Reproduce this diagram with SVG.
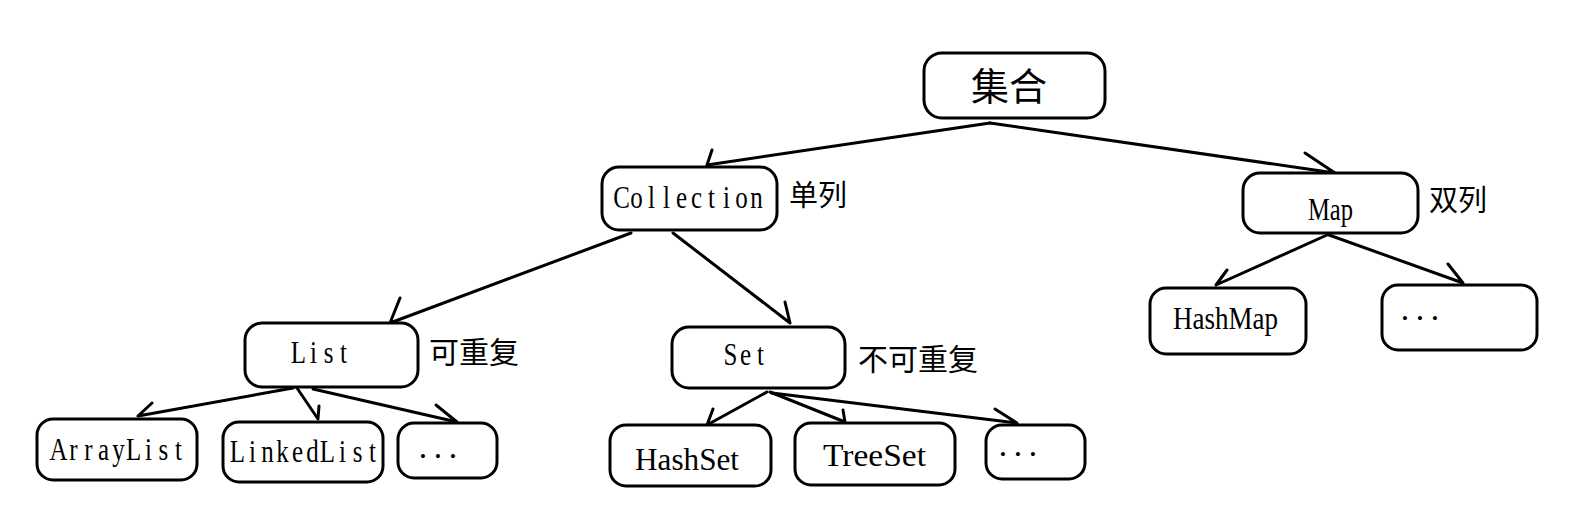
<svg xmlns="http://www.w3.org/2000/svg" width="1579" height="512" viewBox="0 0 1579 512">
<style>
.box{fill:#fff;stroke:#000;stroke-width:3}
.lat{font-family:"Liberation Serif",serif;font-size:32px;fill:#000;text-anchor:middle}
.pro{font-family:"Liberation Serif",serif;font-size:32px;fill:#000}
.dot{font-family:"Liberation Serif",serif;font-size:34px;fill:#000;text-anchor:middle}
.cjk{font-family:"Noto Sans CJK SC",sans-serif;fill:#000}
.c29{font-size:29px}
.c30{font-size:30px}
.c38{font-size:38px}
.ln{fill:none;stroke:#000;stroke-width:3;stroke-linecap:round;stroke-linejoin:round}
</style>
<rect width="1579" height="512" fill="#fff"/>
<g id="connectors">
<path class="ln" d="M990,123 L707,165 M712,150 L707,165"/>
<path class="ln" d="M990,123 L1335,173 M1305,153 L1335,173"/>
<path class="ln" d="M631,233 L390,323 M400,298 L390,323"/>
<path class="ln" d="M673,233 L790,323 M785,302 L790,323"/>
<path class="ln" d="M293,388 L138,416 M152,403 L138,416"/>
<path class="ln" d="M297,388 L318,419 M319,406 L318,419"/>
<path class="ln" d="M313,389 L457,422 M436,405 L457,422"/>
<path class="ln" d="M767,392 L707,425 M713,409 L707,425"/>
<path class="ln" d="M770,392 L845,422 M843,410 L845,422"/>
<path class="ln" d="M772,393 L1017,423 M995,409 L1017,423"/>
<path class="ln" d="M1327,235 L1216,285 M1227,270 L1216,285"/>
<path class="ln" d="M1329,235 L1463,283 M1448,264 L1463,283"/>
</g>
<g id="n-jihe"><rect class="box" x="924" y="53" width="181" height="65" rx="18"/><text class="cjk c38" x="1009" y="100" text-anchor="middle">集合</text></g>
<g id="n-collection"><rect class="box" x="602" y="167" width="175" height="63" rx="17"/><text class="lat" transform="translate(614,208) scale(0.78,1)" x="9.6 28.8 48.1 67.3 86.5 105.8 125 144.2 163.5 182.7" y="0">Collection</text><text class="cjk c29" x="789" y="206">单列</text></g>
<g id="n-map"><rect class="box" x="1243" y="173" width="175" height="60" rx="17"/><text class="pro" x="1308" y="220" textLength="45" lengthAdjust="spacingAndGlyphs">Map</text><text class="cjk c29" x="1429" y="211">双列</text></g>
<g id="n-list"><rect class="box" x="245" y="323" width="173" height="64" rx="17"/><text class="lat" transform="translate(291,363) scale(0.78,1)" x="9.6 28.8 48.1 67.3" y="0">List</text><text class="cjk c30" x="429" y="363">可重复</text></g>
<g id="n-set"><rect class="box" x="672" y="327" width="173" height="61" rx="17"/><text class="lat" transform="translate(723,365) scale(0.78,1)" x="9.6 28.8 48.1" y="0">Set</text><text class="cjk c30" x="858" y="370">不可重复</text></g>
<g id="n-arraylist"><rect class="box" x="37" y="419" width="160" height="61" rx="16"/><text class="lat" transform="translate(51,460) scale(0.78,1)" x="9.6 28.8 48.1 67.3 86.5 105.8 125 144.2 163.5" y="0">ArrayList</text></g>
<g id="n-linkedlist"><rect class="box" x="223" y="422" width="160" height="60" rx="16"/><text class="lat" transform="translate(230,462) scale(0.78,1)" x="9.6 28.8 48.1 67.3 86.5 105.8 125 144.2 163.5 182.7" y="0">LinkedList</text></g>
<g id="n-list-more"><rect class="box" x="398" y="423" width="99" height="55" rx="16"/><text class="dot" x="423 438 453" y="467">···</text></g>
<g id="n-hashset"><rect class="box" x="610" y="425" width="161" height="61" rx="16"/><text class="pro" x="635" y="470" textLength="104" lengthAdjust="spacingAndGlyphs">HashSet</text></g>
<g id="n-treeset"><rect class="box" x="795" y="423" width="160" height="62" rx="16"/><text class="pro" x="823" y="466" textLength="103" lengthAdjust="spacingAndGlyphs">TreeSet</text></g>
<g id="n-set-more"><rect class="box" x="986" y="425" width="99" height="54" rx="16"/><text class="dot" x="1003 1018 1033" y="465">···</text></g>
<g id="n-hashmap"><rect class="box" x="1150" y="288" width="156" height="66" rx="16"/><text class="pro" x="1173" y="329" textLength="105" lengthAdjust="spacingAndGlyphs">HashMap</text></g>
<g id="n-map-more"><rect class="box" x="1382" y="285" width="155" height="65" rx="16"/><text class="dot" x="1405 1420 1435" y="329">···</text></g>
</svg>
